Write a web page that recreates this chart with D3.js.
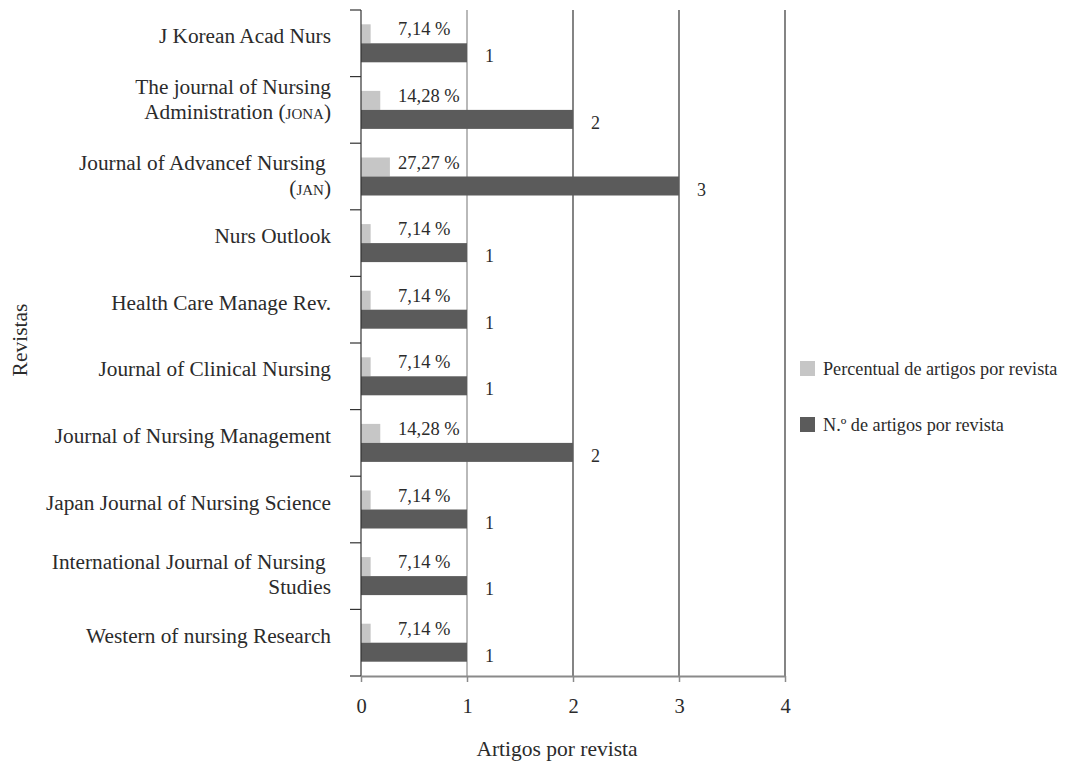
<!DOCTYPE html>
<html>
<head>
<meta charset="utf-8">
<script src="https://cdn.jsdelivr.net/npm/d3@7/dist/d3.min.js"></script>
<style>
  body { margin: 0; background: #fff; }
  svg text { font-family: "Liberation Serif", "Times New Roman", serif; fill: #2b2b2b; }
</style>
</head>
<body>
<svg id="chart" width="1066" height="764"></svg>
<script>
// journal names, top to bottom (each entry = lines of the label)
var journals = [
    ['J Korean Acad Nurs'],
    ['The journal of Nursing', 'Administration (|JONA|)'],
    ['Journal of Advancef Nursing ', '(|JAN|)'],
    ['Nurs Outlook'],
    ['Health Care Manage Rev.'],
    ['Journal of Clinical Nursing'],
    ['Journal of Nursing Management'],
    ['Japan Journal of Nursing Science'],
    ['International Journal of Nursing ', 'Studies'],
    ['Western of nursing Research']
];
var counts = [1, 2, 3, 1, 1, 1, 2, 1, 1, 1];
// light bar lengths as drawn (share of 11 articles) and the labels printed on them
var shares = [9.09, 18.18, 27.27, 9.09, 9.09, 9.09, 18.18, 9.09, 9.09, 9.09];
var shareLabels = ['7,14 %', '14,28 %', '27,27 %', '7,14 %', '7,14 %', '7,14 %', '14,28 %', '7,14 %', '7,14 %', '7,14 %'];
var xTicks = [0, 1, 2, 3, 4];
var seriesNames = ['Percentual de artigos por revista', 'N.º de artigos por revista'];
var seriesColors = ['#c6c6c6', '#5b5b5b'];

var svg = d3.select('#chart');
var plotLeft = 361, plotRight = 785, plotTop = 10, plotBottom = 676;

var x = d3.scaleLinear().domain([0, 4]).range([plotLeft, plotRight]);
var y = d3.scaleBand().domain(d3.range(journals.length)).range([plotTop, plotBottom]);
var barH = 19;

// gridlines
svg.append('g').selectAll('line')
    .data(xTicks.slice(1))
    .enter().append('line')
    .attr('x1', function(d) { return x(d); })
    .attr('x2', function(d) { return x(d); })
    .attr('y1', plotTop)
    .attr('y2', plotBottom)
    .attr('stroke', function(d) { return d === 1 ? '#8a8a8a' : '#333'; })
    .attr('stroke-width', 1.2);

// bars
var rows = svg.append('g').selectAll('g')
    .data(d3.range(journals.length))
    .enter().append('g');

rows.append('rect')
    .attr('x', x(0))
    .attr('y', function(i) { return y(i) + y.bandwidth() / 2 - barH; })
    .attr('width', function(i) { return x(shares[i] / 100) - x(0); })
    .attr('height', barH)
    .attr('fill', seriesColors[0]);

rows.append('rect')
    .attr('x', x(0))
    .attr('y', function(i) { return y(i) + y.bandwidth() / 2; })
    .attr('width', function(i) { return x(counts[i]) - x(0); })
    .attr('height', barH)
    .attr('fill', seriesColors[1]);

rows.append('text')
    .attr('x', x(0) + 37)
    .attr('y', function(i) { return y(i) + y.bandwidth() / 2 - 8; })
    .attr('font-size', 18.5)
    .text(function(i) { return shareLabels[i]; });

rows.append('text')
    .attr('x', function(i) { return x(counts[i]) + 18; })
    .attr('y', function(i) { return y(i) + y.bandwidth() / 2 + 19; })
    .attr('font-size', 18)
    .text(function(i) { return counts[i]; });

// category labels
rows.each(function(i) {
    var lines = journals[i];
    var cy = y(i) + y.bandwidth() / 2;
    var t = d3.select(this).append('text')
        .attr('text-anchor', 'end')
        .attr('font-size', 21.3)
        .style('white-space', 'pre');
    lines.forEach(function(line, k) {
        var ty = lines.length === 1 ? cy : cy - 7 + k * 25;
        if (i === 1) ty -= 9; // this label sits higher in the original
        var parts = line.split('|');
        parts.forEach(function(p, j) {
            var ts = t.append('tspan').text(p);
            if (j === 0) ts.attr('x', 331).attr('y', ty);
            if (j % 2 === 1) ts.attr('font-size', 15);
        });
    });
});

// y axis
var yAxis = svg.append('g');
yAxis.append('line')
    .attr('x1', plotLeft).attr('x2', plotLeft)
    .attr('y1', plotTop).attr('y2', plotBottom)
    .attr('stroke', '#333').attr('stroke-width', 1.2);
yAxis.selectAll('line.tick')
    .data(d3.range(journals.length + 1))
    .enter().append('line')
    .attr('class', 'tick')
    .attr('x1', plotLeft - 11).attr('x2', plotLeft)
    .attr('y1', function(i) { return i < journals.length ? y(i) : plotBottom; })
    .attr('y2', function(i) { return i < journals.length ? y(i) : plotBottom; })
    .attr('stroke', '#333').attr('stroke-width', 1.2);

// x axis
var xAxis = svg.append('g').attr('transform', 'translate(0,' + plotBottom + ')')
    .call(d3.axisBottom(x).tickValues(xTicks).tickFormat(d3.format('d')).tickSize(6).tickSizeOuter(0));
xAxis.select('.domain').attr('stroke', '#8a8a8a').attr('stroke-width', 2);
xAxis.selectAll('.tick line').attr('stroke', '#8a8a8a').attr('stroke-width', 1.5);
xAxis.selectAll('.tick text')
    .attr('font-size', 20.5)
    .attr('dy', 0)
    .attr('y', 37);

// axis titles
svg.append('text')
    .attr('x', 557).attr('y', 756)
    .attr('text-anchor', 'middle')
    .attr('font-size', 21.5)
    .text('Artigos por revista');

svg.append('text')
    .attr('transform', 'translate(27,340) rotate(-90)')
    .attr('text-anchor', 'middle')
    .attr('font-size', 21.5)
    .text('Revistas');

// legend
var legend = svg.append('g').selectAll('g')
    .data(seriesNames)
    .enter().append('g')
    .attr('transform', function(d, i) { return 'translate(800,' + (361 + i * 56) + ')'; });
legend.append('rect')
    .attr('width', 15).attr('height', 15)
    .attr('fill', function(d, i) { return seriesColors[i]; });
legend.append('text')
    .attr('x', 23).attr('y', 14)
    .attr('font-size', 18.2)
    .text(function(d) { return d; });
</script>
</body>
</html>
